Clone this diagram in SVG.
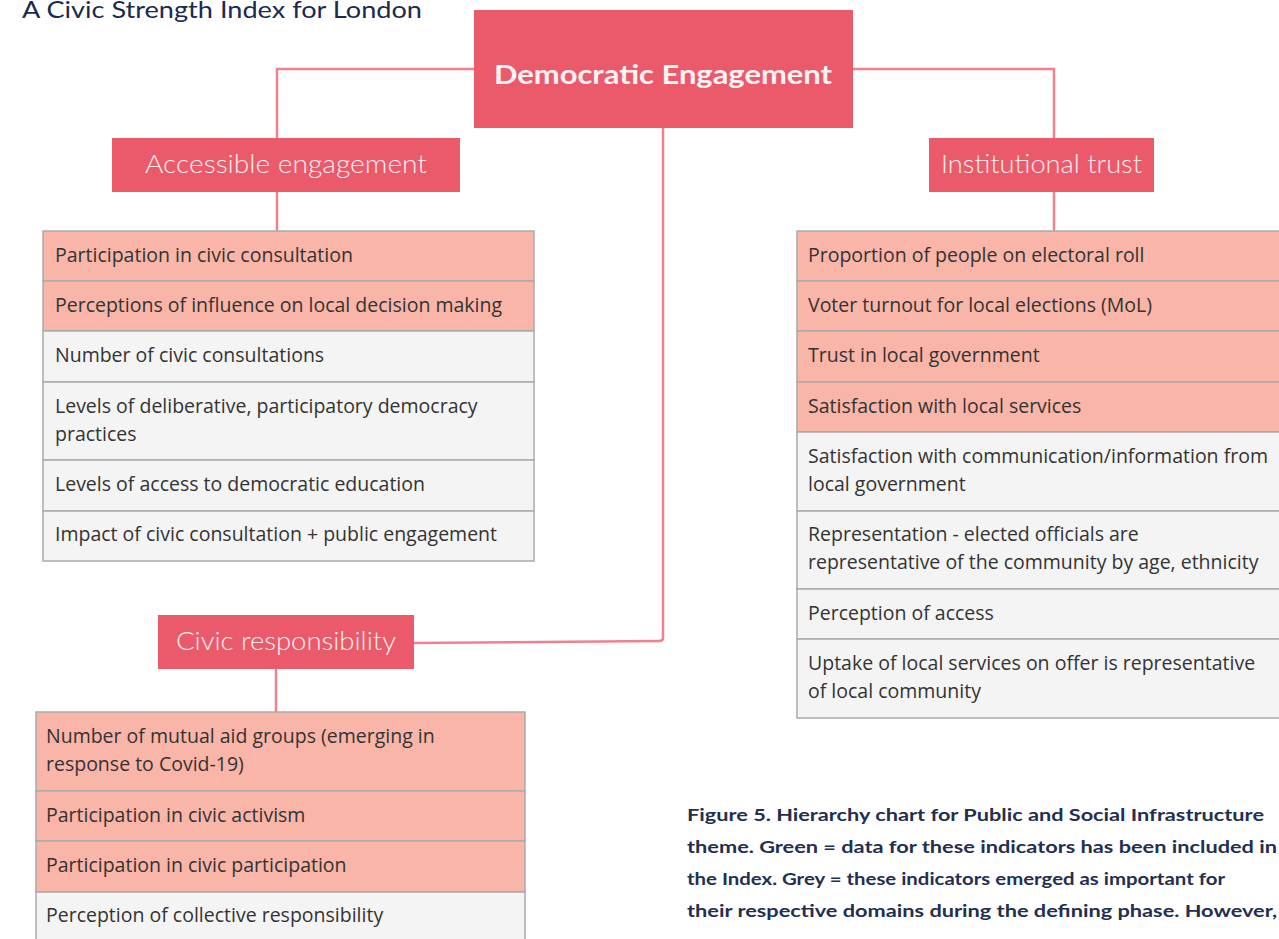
<svg xmlns="http://www.w3.org/2000/svg" width="1279" height="939" viewBox="0 0 1279 939">
<style>
.hdr{fill:#EB5A6A}
.sal{fill:#F9B5A8;stroke:#ABABAB;stroke-width:1.5}
.gry{fill:#F4F4F4;stroke:#ABABAB;stroke-width:1.5}
.cell{font-family:"Open Sans","Noto Sans",sans-serif;font-size:19.5px;fill:#333333}
.sub{font-family:"Lato","Noto Sans",sans-serif;font-size:25px;font-weight:300;fill:#FDF1F1}
.root{font-family:"Lato","Noto Sans",sans-serif;font-size:27px;font-weight:700;fill:#FDF3F3}
.cap{font-family:"Lato","Noto Sans",sans-serif;font-size:17.5px;font-weight:700;fill:#232F4F}
.title{font-family:"Lato","Noto Sans",sans-serif;font-size:23px;fill:#1B2A4E}
.conn{fill:none;stroke:#F0808E;stroke-width:2.5}
</style>
<rect width="1279" height="939" fill="#FFFFFF"/>
<text class="title" x="22" y="18" textLength="400" lengthAdjust="spacingAndGlyphs">A Civic Strength Index for London</text>

<g id="connectors">
<path class="conn" d="M474 69 H277 V138"/>
<path class="conn" d="M853 69 H1054 V138"/>
<path class="conn" d="M277 192 V231"/>
<path class="conn" d="M1054 192 V231"/>
<path class="conn" d="M663 128 V638 Q663 641 659 641 L414 643"/>
<path class="conn" d="M276 669 V712"/>
</g>

<g id="root">
<rect class="hdr" x="474" y="10" width="379" height="118"/>
<text class="root" x="663" y="84" text-anchor="middle" textLength="338" lengthAdjust="spacingAndGlyphs">Democratic Engagement</text>
</g>

<g id="accessible-engagement">
<rect class="hdr" x="112" y="138" width="348" height="54"/>
<text class="sub" x="286" y="173" text-anchor="middle" textLength="282" lengthAdjust="spacingAndGlyphs">Accessible engagement</text>
</g>

<g id="institutional-trust">
<rect class="hdr" x="929" y="138" width="225" height="54"/>
<text class="sub" x="1041.5" y="173" text-anchor="middle" textLength="201" lengthAdjust="spacingAndGlyphs">Institutional trust</text>
</g>

<g id="civic-responsibility">
<rect class="hdr" x="158" y="615" width="256" height="54"/>
<text class="sub" x="286" y="650" text-anchor="middle" textLength="220" lengthAdjust="spacingAndGlyphs">Civic responsibility</text>
</g>

<g id="accessible-indicators">
<rect class="sal" x="43" y="231" width="491" height="50"/>
<text class="cell" x="55" y="262">Participation in civic consultation</text>
<rect class="sal" x="43" y="281" width="491" height="50"/>
<text class="cell" x="55" y="312">Perceptions of influence on local decision making</text>
<rect class="gry" x="43" y="331" width="491" height="51"/>
<text class="cell" x="55" y="362">Number of civic consultations</text>
<rect class="gry" x="43" y="382" width="491" height="78"/>
<text class="cell" x="55" y="413">Levels of deliberative, participatory democracy</text>
<text class="cell" x="55" y="441">practices</text>
<rect class="gry" x="43" y="460" width="491" height="51"/>
<text class="cell" x="55" y="491">Levels of access to democratic education</text>
<rect class="gry" x="43" y="511" width="491" height="50"/>
<text class="cell" x="55" y="541">Impact of civic consultation + public engagement</text>
</g>

<g id="institutional-indicators">
<rect class="sal" x="797" y="231" width="490" height="50"/>
<text class="cell" x="808" y="262">Proportion of people on electoral roll</text>
<rect class="sal" x="797" y="281" width="490" height="50"/>
<text class="cell" x="808" y="312">Voter turnout for local elections (MoL)</text>
<rect class="sal" x="797" y="331" width="490" height="51"/>
<text class="cell" x="808" y="362">Trust in local government</text>
<rect class="sal" x="797" y="382" width="490" height="50"/>
<text class="cell" x="808" y="413">Satisfaction with local services</text>
<rect class="gry" x="797" y="432" width="490" height="79"/>
<text class="cell" x="808" y="463">Satisfaction with communication/information from</text>
<text class="cell" x="808" y="491">local government</text>
<rect class="gry" x="797" y="511" width="490" height="78"/>
<text class="cell" x="808" y="541">Representation - elected officials are</text>
<text class="cell" x="808" y="569">representative of the community by age, ethnicity</text>
<rect class="gry" x="797" y="589" width="490" height="50"/>
<text class="cell" x="808" y="620">Perception of access</text>
<rect class="gry" x="797" y="639" width="490" height="79"/>
<text class="cell" x="808" y="670">Uptake of local services on offer is representative</text>
<text class="cell" x="808" y="698">of local community</text>
</g>

<g id="civic-indicators">
<rect class="sal" x="36" y="712" width="489" height="79"/>
<text class="cell" x="46" y="743">Number of mutual aid groups (emerging in</text>
<text class="cell" x="46" y="771">response to Covid-19)</text>
<rect class="sal" x="36" y="791" width="489" height="50"/>
<text class="cell" x="46" y="822">Participation in civic activism</text>
<rect class="sal" x="36" y="841" width="489" height="51"/>
<text class="cell" x="46" y="872">Participation in civic participation</text>
<rect class="gry" x="36" y="892" width="489" height="60"/>
<text class="cell" x="46" y="922">Perception of collective responsibility</text>
</g>

<g id="caption">
<text class="cap" x="687" y="821" textLength="577" lengthAdjust="spacingAndGlyphs">Figure 5. Hierarchy chart for Public and Social Infrastructure</text>
<text class="cap" x="687" y="853" textLength="590" lengthAdjust="spacingAndGlyphs">theme. Green = data for these indicators has been included in</text>
<text class="cap" x="687" y="885" textLength="538" lengthAdjust="spacingAndGlyphs">the Index. Grey = these indicators emerged as important for</text>
<text class="cap" x="687" y="917" textLength="590" lengthAdjust="spacingAndGlyphs">their respective domains during the defining phase. However,</text>
</g>
</svg>
